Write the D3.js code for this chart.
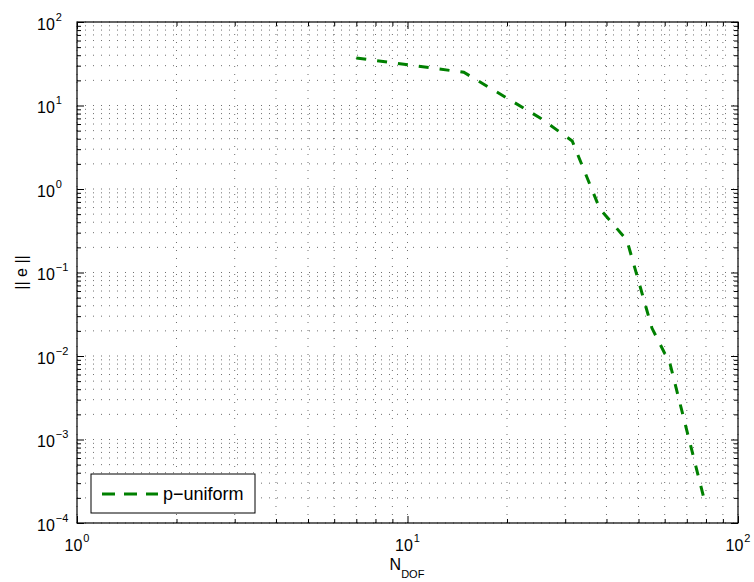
<!DOCTYPE html>
<html><head><meta charset="utf-8">
<script src="https://cdn.jsdelivr.net/npm/d3@7"></script>
<style>
html,body{margin:0;padding:0;background:#fff;}
text{font-family:"Liberation Sans",Arial,Helvetica,sans-serif;fill:#000;}
</style></head>
<body><svg id="chart" width="754" height="582"></svg>
<script>
// ---- data ----
const nDof     = [7, 14.8, 25.2, 31.5, 38.2, 46.1, 54.9, 62.3, 79.5];
const errNorm  = [37.1, 25.0, 7.09, 3.76, 0.576, 0.245, 0.0216, 0.00802, 1.74e-4];
const seriesName = "p\u2212uniform";
const xTickExps = [0, 1, 2];
const yTickExps = [-4, -3, -2, -1, 0, 1, 2];

const svg = d3.select("#chart");
const L = 77, R = 738, T = 22, B = 523;
const x = d3.scaleLog().domain([1, 100]).range([L, R]);
const y = d3.scaleLog().domain([1e-4, 1e2]).range([B, T]);

svg.append("rect").attr("width",754).attr("height",582).attr("fill","#fff");

function minorTicks(lo, hi){
  const out=[];
  for(let e=lo;e<hi;e++){ for(let m=2;m<=9;m++) out.push(m*Math.pow(10,e)); }
  return out;
}
const xMajor = xTickExps.map(e=>Math.pow(10,e));
const yMajor = yTickExps.map(e=>Math.pow(10,e));
const xMinor = minorTicks(0,2);
const yMinor = minorTicks(-4,2);

// grid
const grid = svg.append("g").attr("stroke","#4a4a4a").attr("stroke-width",0.8)
  .attr("stroke-dasharray","1,7").attr("fill","none");
xMajor.concat(xMinor).forEach(v=>{
  grid.append("line").attr("x1",x(v)).attr("x2",x(v)).attr("y1",B).attr("y2",T);
});
yMajor.concat(yMinor).forEach(v=>{
  grid.append("line").attr("y1",y(v)).attr("y2",y(v)).attr("x1",L).attr("x2",R);
});

function drawAxis(axisGen, tr){
  const g = svg.append("g").attr("transform",tr).call(axisGen);
  g.selectAll("text").remove();
  g.select(".domain").remove();
  g.selectAll("line").attr("stroke","#000").attr("stroke-width",1);
}
const majL = 7, minL = 4;
drawAxis(d3.axisBottom(x).tickValues(xMajor).tickSize(-majL), `translate(0,${B})`);
drawAxis(d3.axisBottom(x).tickValues(xMinor).tickSize(-minL), `translate(0,${B})`);
drawAxis(d3.axisTop(x).tickValues(xMajor).tickSize(-majL), `translate(0,${T})`);
drawAxis(d3.axisTop(x).tickValues(xMinor).tickSize(-minL), `translate(0,${T})`);
drawAxis(d3.axisLeft(y).tickValues(yMajor).tickSize(-majL), `translate(${L},0)`);
drawAxis(d3.axisLeft(y).tickValues(yMinor).tickSize(-minL), `translate(${L},0)`);
drawAxis(d3.axisRight(y).tickValues(yMajor).tickSize(-majL), `translate(${R},0)`);
drawAxis(d3.axisRight(y).tickValues(yMinor).tickSize(-minL), `translate(${R},0)`);

svg.append("rect").attr("x",L).attr("y",T).attr("width",R-L).attr("height",B-T)
  .attr("fill","none").attr("stroke","#000").attr("stroke-width",1.2);

xTickExps.forEach(e=>{
  const t = svg.append("text").attr("x",x(Math.pow(10,e))).attr("y",551)
    .attr("text-anchor","middle").attr("font-size",16);
  t.append("tspan").text("10");
  t.append("tspan").attr("dy",-9).attr("dx",1).attr("font-size",11)
    .text(e<0?("\u2212"+(-e)):String(e));
});
yTickExps.forEach(e=>{
  const t = svg.append("text").attr("x",37).attr("y",y(Math.pow(10,e))+7.5)
    .attr("text-anchor","start").attr("font-size",16);
  t.append("tspan").text("10");
  t.append("tspan").attr("dy",-9).attr("dx",1).attr("font-size",11)
    .text(e<0?("\u2212"+(-e)):String(e));
});

const xl = svg.append("text").attr("x",407).attr("y",570).attr("text-anchor","middle").attr("font-size",16);
xl.append("tspan").text("N");
xl.append("tspan").attr("dy",8).attr("font-size",11).text("DOF");

svg.append("text").attr("transform",`translate(27,${(T+B)/2}) rotate(-90)`)
  .attr("text-anchor","middle").attr("font-size",16).text("|| e ||");

const line = d3.line().x((d,i)=>x(nDof[i])).y((d,i)=>y(errNorm[i]));
svg.append("path").datum(nDof).attr("d",line).attr("fill","none")
  .attr("stroke","#008000").attr("stroke-width",3).attr("stroke-dasharray","10,11");

const lg = svg.append("g");
lg.append("rect").attr("x",91).attr("y",474).attr("width",164).attr("height",39)
  .attr("fill","#fff").attr("stroke","#000").attr("stroke-width",1);
lg.append("line").attr("x1",102).attr("x2",158).attr("y1",494).attr("y2",494)
  .attr("stroke","#008000").attr("stroke-width",3).attr("stroke-dasharray","13,9");
lg.append("text").attr("x",163).attr("y",500).attr("font-size",18).text(seriesName);
</script></body></html>
